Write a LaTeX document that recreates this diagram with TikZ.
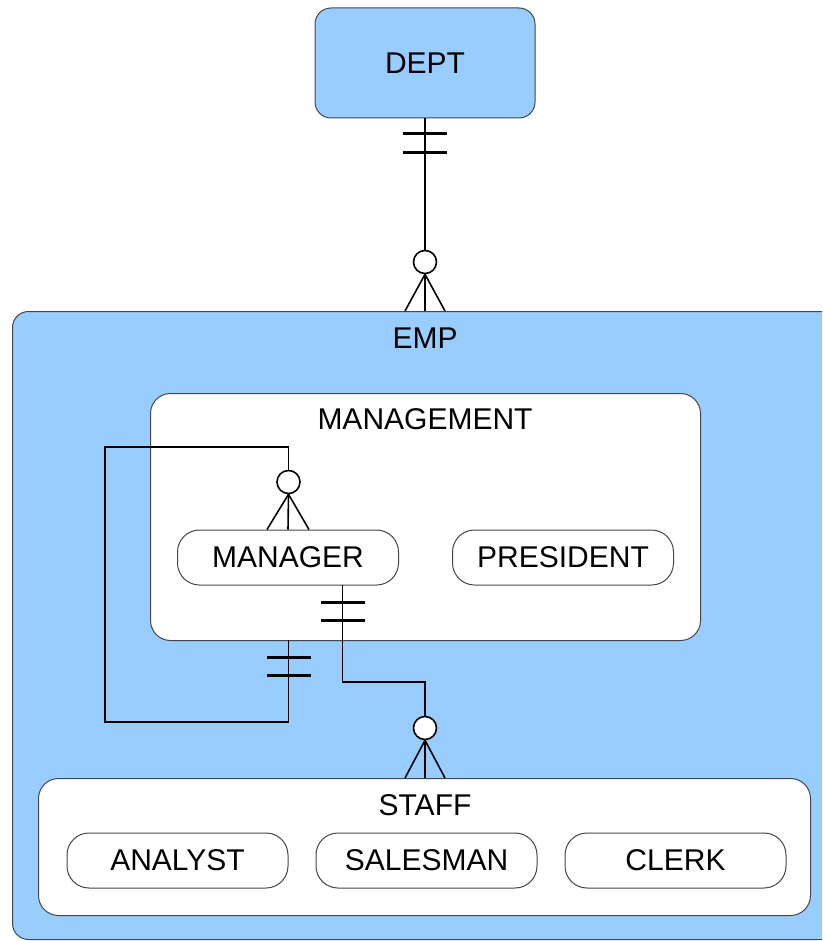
\documentclass[tikz,border=0pt]{standalone}
\usepackage{fontspec}
\setmainfont{Liberation Sans}
\usetikzlibrary{positioning,calc}
\definecolor{empblue}{RGB}{153,204,255}
\definecolor{boxline}{RGB}{70,70,70}

\begin{document}
\begin{tikzpicture}[x=1pt, y=-1pt, font=\fontsize{30}{36}\selectfont,
  outer/.style = {draw=boxline, line width=1pt, fill=empblue, rounded corners=16pt, inner sep=0pt},
  group/.style = {draw=boxline, line width=1pt, fill=white, rounded corners=20pt, inner sep=0pt},
  leaf/.style = {draw=boxline, line width=1pt, fill=white, rounded corners=22pt, minimum width=221pt, minimum height=55pt, inner sep=0pt},
  title/.style = {inner sep=0pt},
  link/.style = {line width=1.6pt},
  bar/.style = {line width=3pt},
  ring/.style = {draw, circle, line width=1.6pt, fill=white, minimum size=23pt, inner sep=0pt}]
\useasboundingbox (0,0) rectangle (822,941);
\clip (0,0) rectangle (822,941);

% boxes
\node[outer, minimum width=220pt, minimum height=110pt] (dept) at (425,63) {DEPT};
\node[outer, minimum width=860pt, minimum height=628pt, anchor=north west] (emp) at (12,311) {};
\node[title] (emplabel) at (425,338) {EMP};
\node[group, minimum width=550pt, minimum height=247pt, anchor=north west] (mgmt) at (150,393) {};
\node[title] (mgmtlabel) at (425,419) {MANAGEMENT};
\node[leaf] (manager) at (288,557.5) {MANAGER};
\node[leaf] (president) at (563,557.5) {PRESIDENT};
\node[group, minimum width=772pt, minimum height=137pt, anchor=north west] (staff) at (38,778) {};
\node[title] (stafflabel) at (425,805) {STAFF};
\node[leaf] (analyst) at (177.5,860.5) {ANALYST};
\node[leaf, right=27pt of analyst] (salesman) {SALESMAN};
\node[leaf, right=27pt of salesman] (clerk) {CLERK};

% DEPT -- EMP
\node[ring] (ring1) at (425,262) {};
\coordinate (empin) at (425,311);
\draw[link] (dept.south) -- (ring1.north);
\draw[bar] ($(dept.south)+(-22,15)$) -- ++(44,0);
\draw[bar] ($(dept.south)+(-22,34)$) -- ++(44,0);
\draw[link] (ring1.south) -- (empin);
\draw[link] (ring1.south) -- ($(empin)+(-20,0)$);
\draw[link] (ring1.south) -- ($(empin)+(20,0)$);

% MANAGEMENT -- MANAGER (reports to)
\coordinate (mgmtout) at (288.5,640);
\node[ring] (ring2) at (288.5,482) {};
\draw[link] (mgmtout) -- (288.5,722) -- (105,722) -- (105,447) -- (288.5,447) -- (ring2.north);
\draw[bar] ($(mgmtout)+(-22,17)$) -- ++(44,0);
\draw[bar] ($(mgmtout)+(-22,35)$) -- ++(44,0);
\draw[link] (ring2.south) -- (manager.north);
\draw[link] (ring2.south) -- ($(manager.north)+(-21,0)$);
\draw[link] (ring2.south) -- ($(manager.north)+(21,0)$);

% MANAGER -- STAFF
\coordinate (mgrout) at (342.5,585);
\node[ring] (ring3) at (425,728) {};
\draw[link] (mgrout) -- (342.5,682) -- (425,682) -- (ring3.north);
\draw[bar] ($(mgrout)+(-22,17)$) -- ++(44,0);
\draw[bar] ($(mgrout)+(-22,35)$) -- ++(44,0);
\draw[link] (ring3.south) -- (staff.north -| ring3);
\draw[link] (ring3.south) -- ($(staff.north -| ring3)+(-20,0)$);
\draw[link] (ring3.south) -- ($(staff.north -| ring3)+(20,0)$);
\end{tikzpicture}
\end{document}
